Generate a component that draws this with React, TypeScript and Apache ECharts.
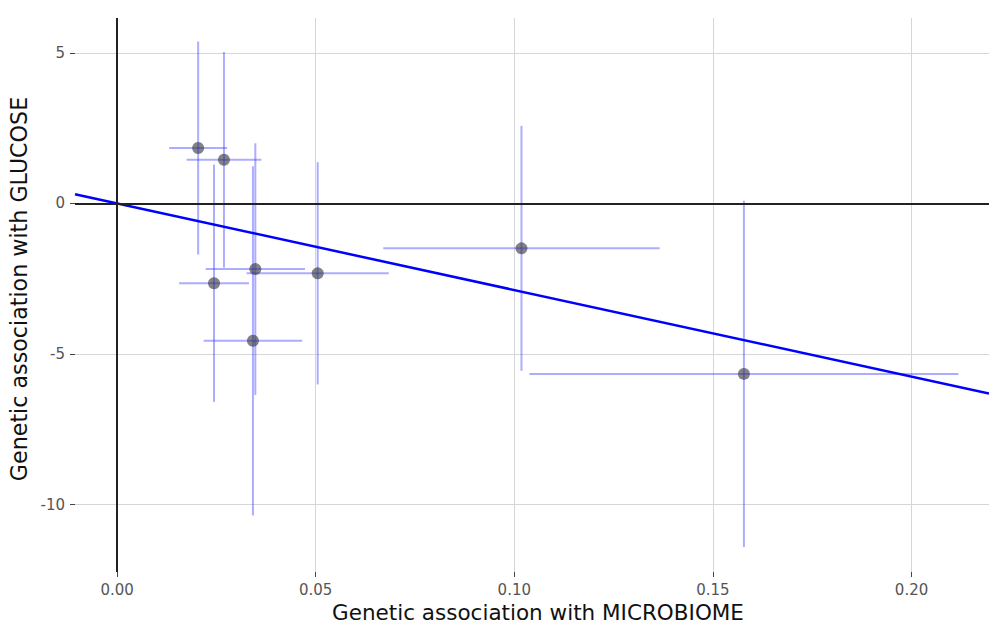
import React, { useEffect, useRef } from "react";
import * as echarts from "echarts";

// Genetic association estimates (x = microbiome, y = glucose)
const betaX = [0.0204, 0.0269, 0.0244, 0.0348, 0.0342, 0.0505, 0.1018, 0.1578];
const betaY = [1.84, 1.45, -2.65, -2.18, -4.56, -2.32, -1.49, -5.66];
// half-widths of the error bars
const errX = [0.0073, 0.0094, 0.0088, 0.0125, 0.0124, 0.0179, 0.0348, 0.054];
const errY = [3.54, 3.58, 3.94, 4.18, 5.8, 3.69, 4.07, 5.75];
// IVW slope (line through origin)
const ivwSlope = -28.76;

const xTicks = [0, 0.05, 0.1, 0.15, 0.2];
const yTicks = [-10, -5, 0, 5];
const xRange = [-0.0106, 0.2195];
const yRange = [-12.24, 6.16];

const FONT = "DejaVu Sans";

export default function App() {
  const ref = useRef<HTMLDivElement>(null);

  useEffect(() => {
    if (!ref.current) return;
    const chart = echarts.init(ref.current, undefined, { renderer: "svg" });

    const errData = betaX.map((x, i) => [x, betaY[i], errX[i], errY[i]]);
    const pts = betaX.map((x, i) => [x, betaY[i]]);
    const lineData = [
      [xRange[0], ivwSlope * xRange[0]],
      [xRange[1], ivwSlope * xRange[1]],
    ];

    const errColor = "rgba(60,60,255,0.42)";

    chart.setOption({
      animation: false,
      backgroundColor: "#ffffff",
      grid: {
        left: 75,
        right: 0,
        top: 18,
        bottom: 53,
        containLabel: false,
        outerBoundsMode: "none",
      },
      xAxis: {
        type: "value",
        min: xRange[0],
        max: xRange[1],
        axisLine: { show: false, onZero: false },
        axisTick: {
          show: true,
          length: 5,
          customValues: xTicks,
          lineStyle: { color: "#444", width: 1 },
        },
        axisLabel: {
          customValues: xTicks,
          formatter: (v: number) => v.toFixed(2),
          color: "#555",
          fontFamily: FONT,
          fontSize: 15,
          margin: 10,
        },
        splitLine: { show: true, lineStyle: { color: "#d6d6d6", width: 1 } },
        name: "Genetic association with MICROBIOME",
        nameLocation: "middle",
        nameGap: 29,
        nameTextStyle: {
          color: "#111",
          fontFamily: FONT,
          fontSize: 21.5,
          padding: [0, 0, 0, 12],
        },
      },
      yAxis: {
        type: "value",
        min: yRange[0],
        max: yRange[1],
        axisLine: { show: false, onZero: false },
        axisTick: {
          show: true,
          length: 5,
          customValues: yTicks,
          lineStyle: { color: "#444", width: 1 },
        },
        axisLabel: {
          customValues: yTicks,
          formatter: (v: number) => String(v),
          color: "#555",
          fontFamily: FONT,
          fontSize: 15,
          margin: 10,
        },
        splitLine: { show: true, lineStyle: { color: "#d6d6d6", width: 1 } },
        name: "Genetic association with GLUCOSE",
        nameLocation: "middle",
        nameGap: 31,
        nameTextStyle: {
          color: "#111",
          fontFamily: FONT,
          fontSize: 22.2,
          padding: [0, 0, 0, 12],
        },
      },
      series: [
        {
          type: "custom",
          z: 1,
          silent: true,
          encode: { x: 0, y: 1 },
          data: errData,
          renderItem: (params: any, api: any) => {
            const x = api.value(0);
            const y = api.value(1);
            const ex = api.value(2);
            const ey = api.value(3);
            const l = api.coord([x - ex, y]);
            const r = api.coord([x + ex, y]);
            const t = api.coord([x, y + ey]);
            const b = api.coord([x, y - ey]);
            const style = { stroke: errColor, lineWidth: 2 };
            return {
              type: "group",
              children: [
                { type: "line", shape: { x1: l[0], y1: l[1], x2: r[0], y2: r[1] }, style },
                { type: "line", shape: { x1: t[0], y1: t[1], x2: b[0], y2: b[1] }, style },
              ],
            };
          },
        },
        {
          type: "line",
          z: 2,
          data: [],
          silent: true,
          markLine: {
            silent: true,
            symbol: "none",
            label: { show: false },
            lineStyle: { color: "#222", width: 2, type: "solid" },
            data: [{ xAxis: 0 }, { yAxis: 0 }],
          },
        },
        {
          type: "line",
          z: 3,
          data: lineData,
          showSymbol: false,
          silent: true,
          lineStyle: { color: "#0000ff", width: 2.5 },
        },
        {
          type: "scatter",
          z: 4,
          data: pts,
          symbolSize: 12,
          itemStyle: { color: "rgba(55,55,70,0.78)" },
        },
      ],
    });

    return () => chart.dispose();
  }, []);

  return (
    <div
      ref={ref}
      style={{ position: "absolute", left: 0, top: 0, width: 989, height: 625 }}
    />
  );
}
